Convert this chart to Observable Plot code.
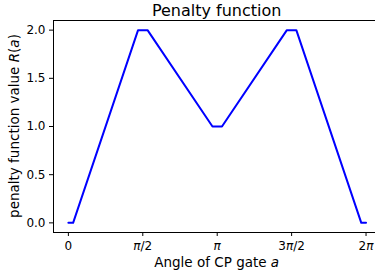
<!DOCTYPE html>
<html>
<head>
<meta charset="utf-8">
<script src="https://cdn.jsdelivr.net/npm/d3@7"></script>
<script src="https://cdn.jsdelivr.net/npm/@observablehq/plot@0.6"></script>
<style>
  html, body { margin: 0; padding: 0; background: white; overflow: hidden; }
  #chart { width: 375px; height: 275px; overflow: hidden; }
</style>
</head>
<body>
<div id="chart"></div>
<script>
// Data
const angles = [0, 0.1, 1.471, 1.671, 3.042, 3.242, 4.612, 4.812, 6.183, 6.283];
const penalty = [0, 0, 2, 2, 1, 1, 2, 2, 0, 0];
const xTicks = [0, Math.PI / 2, Math.PI, 3 * Math.PI / 2, 2 * Math.PI];
const xTickLabels = ["0", "π/2", "π", "3π/2", "2π"];
const yTicks = [0, 0.5, 1.0, 1.5, 2.0];
const yTickLabels = ["0.0", "0.5", "1.0", "1.5", "2.0"];
const title = "Penalty function";

const data = angles.map((a, i) => ({a, r: penalty[i]}));

const W = 375, H = 275;
const svg = Plot.plot({
  width: W,
  height: H,
  marginLeft: 53,
  marginRight: -5.4,
  marginTop: 20,
  marginBottom: 43,
  style: {fontFamily: "DejaVu Sans", fontSize: "12px", color: "black", background: "white", overflow: "hidden"},
  x: {domain: [-0.314, 6.597]},
  y: {domain: [-0.1, 2.1]},
  marks: [
    Plot.axisX({ticks: xTicks, tickFormat: (d, i) => xTickLabels[i], tickSize: 4, tickPadding: 5, fontSize: 12, label: null, stroke: "black", strokeWidth: 1, strokeOpacity: 1, fill: "black"}),
    Plot.axisY({ticks: yTicks, tickFormat: (d, i) => yTickLabels[i], tickSize: 4, tickPadding: 4, fontSize: 12, label: null, stroke: "black", strokeWidth: 1, strokeOpacity: 1, fill: "black"}),
    Plot.line(data, {x: "a", y: "r", stroke: "blue", strokeWidth: 2, strokeLinejoin: "round"}),
    Plot.frame({stroke: "black", strokeWidth: 1})
  ]
});

// italicise π in x tick labels
svg.querySelectorAll('g[aria-label="x-axis tick label"] text').forEach(t => {
  const s = t.textContent;
  t.textContent = "";
  const parts = s.split("π");
  parts.forEach((p, i) => {
    if (p) { const ts = document.createElementNS("http://www.w3.org/2000/svg", "tspan"); ts.textContent = p; t.appendChild(ts); }
    if (i < parts.length - 1) {
      const ts = document.createElementNS("http://www.w3.org/2000/svg", "tspan");
      ts.textContent = "π"; ts.setAttribute("font-style", "italic"); t.appendChild(ts);
    }
  });
});

const xs = svg.scale("x"), ys = svg.scale("y");
const cx = (xs.range[0] + xs.range[1]) / 2;
const cy = (ys.range[0] + ys.range[1]) / 2;
const root = d3.select(svg);
const addText = (x, y, size, parts, rotate) => {
  const t = root.append("text")
    .attr("text-anchor", "middle")
    .attr("font-family", "DejaVu Sans")
    .attr("font-size", size)
    .attr("fill", "black")
    .attr("transform", `translate(${x},${y})` + (rotate ? ` rotate(${rotate})` : ""));
  parts.forEach(([s, it]) => t.append("tspan").text(s).attr("font-style", it ? "italic" : null));
};
addText(cx, 15.5, 16, [[title, false]]);
addText(cx, 267, 13.5, [["Angle of CP gate ", false], ["a", true]]);
addText(18.5, cy, 13.5, [["penalty function value ", false], ["R", true], ["(", false], ["a", true], [")", false]], -90);

document.getElementById("chart").appendChild(svg);
</script>
</body>
</html>
